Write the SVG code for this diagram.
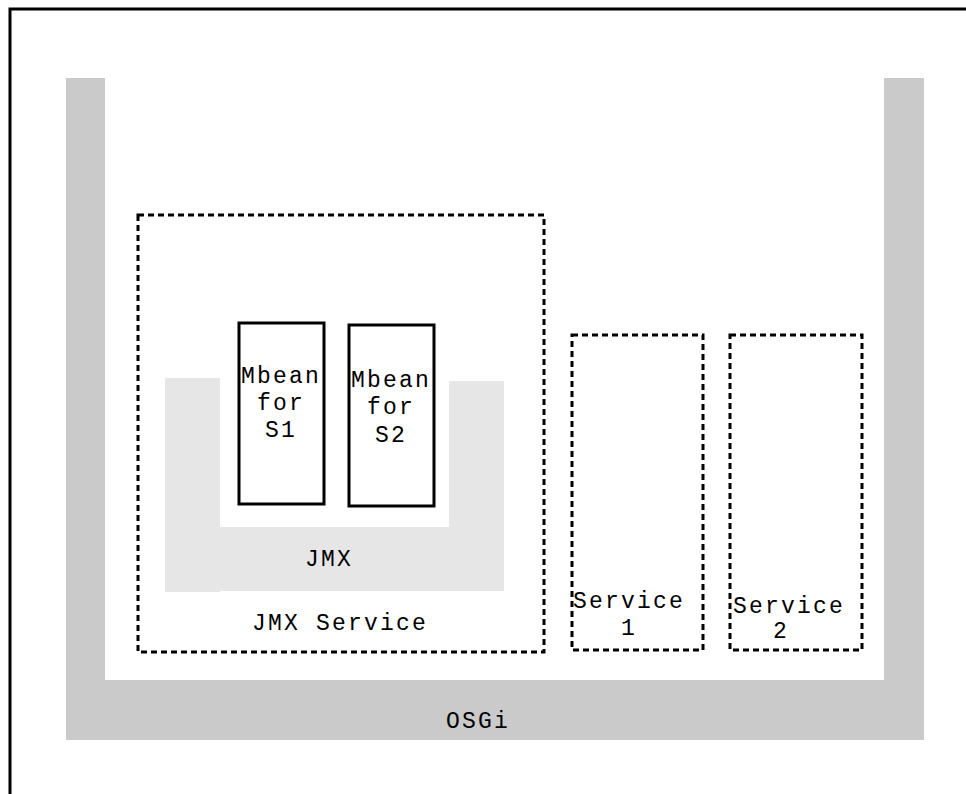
<svg xmlns="http://www.w3.org/2000/svg" width="966" height="794" viewBox="0 0 966 794">
<style>
.t{font-family:"Liberation Mono","Courier New",monospace;font-size:23px;letter-spacing:2.2px;fill:#000;text-anchor:middle}
.dash{fill:none;stroke:#000;stroke-width:3;stroke-dasharray:6 4}
.solid{fill:#fff;stroke:#000;stroke-width:3}
.osgi{fill:#cacaca}
.jmx{fill:#e6e6e6}
</style>
<rect x="0" y="0" width="966" height="794" fill="#fff"/>
<rect id="frame" x="10" y="9" width="1000" height="900" fill="none" stroke="#000" stroke-width="3"/>
<g id="osgi">
<rect class="osgi" x="66" y="78" width="39" height="662"/>
<rect class="osgi" x="884" y="78" width="40" height="662"/>
<rect class="osgi" x="98" y="680" width="790" height="60"/>
<text class="t" x="478" y="728">OSGi</text>
</g>
<g id="jmxservice">
<rect class="dash" x="138" y="215" width="406" height="437"/>
<text class="t" x="340" y="630">JMX Service</text>
</g>
<g id="jmx">
<rect class="jmx" x="165" y="378" width="55" height="214"/>
<rect class="jmx" x="449" y="381" width="55" height="210"/>
<rect class="jmx" x="219" y="527" width="231" height="64"/>
<text class="t" x="329" y="566">JMX</text>
</g>
<g id="mbean1">
<rect class="solid" x="239" y="323" width="85" height="181"/>
<text class="t" x="281" y="383">Mbean</text>
<text class="t" x="281" y="410">for</text>
<text class="t" x="281" y="437">S1</text>
</g>
<g id="mbean2">
<rect class="solid" x="349" y="325" width="85" height="181"/>
<text class="t" x="391" y="387">Mbean</text>
<text class="t" x="391" y="414">for</text>
<text class="t" x="391" y="442">S2</text>
</g>
<g id="service1">
<rect class="dash" x="572" y="335" width="131" height="315"/>
<text class="t" x="629" y="608">Service</text>
<text class="t" x="629" y="635">1</text>
</g>
<g id="service2">
<rect class="dash" x="730" y="335" width="132" height="315"/>
<text class="t" x="789" y="613">Service</text>
<text class="t" x="781" y="638">2</text>
</g>
<g id="connectors"></g>
</svg>
